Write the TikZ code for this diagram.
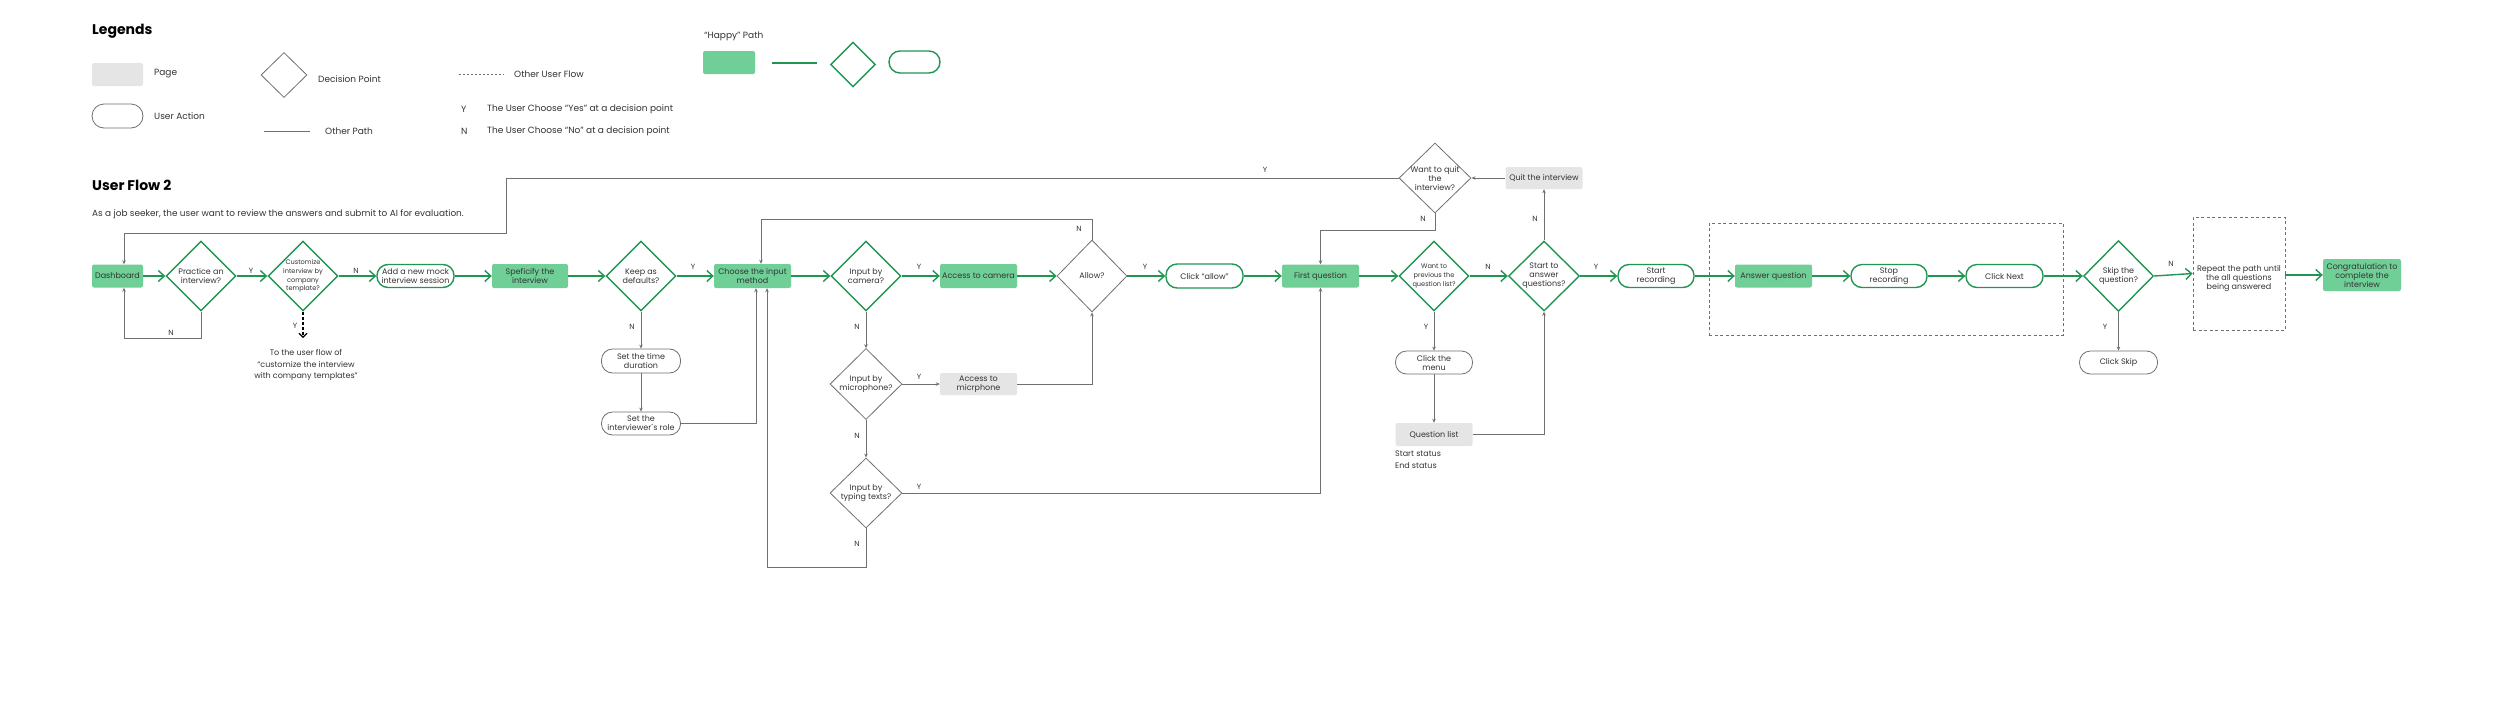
\documentclass[tikz,border=0pt]{standalone}
\usepackage{fontspec}
\setmainfont{Poppins}
\usetikzlibrary{shapes.geometric,arrows.meta}
\definecolor{gfill}{HTML}{6FCF97}
\definecolor{gline}{HTML}{219653}
\definecolor{pgray}{HTML}{E5E5E5}
\definecolor{lgray}{HTML}{707070}
\definecolor{tdark}{HTML}{333333}
\newcommand\myN{\fontsize{8}{9}\selectfont}
\newcommand\myS{\fontsize{6.6}{8.8}\selectfont}
\newcommand\myL{\fontsize{9}{11}\selectfont}
\newcommand\myYN{\fontsize{7.5}{9}\selectfont}
\newcommand\myT{\fontsize{14}{16}\selectfont\bfseries}
\newcommand\myST{\fontsize{8.9}{11}\selectfont}
\begin{document}
\begin{tikzpicture}[x=1pt,y=-1pt,
  box/.style={rectangle, rounded corners=2pt, inner sep=0pt, align=center, font=\myN, text=tdark},
  gbox/.style={box, fill=gfill},
  pbox/.style={box, fill=pgray},
  gact/.style={box, rounded corners=11pt, draw=gline, line width=1.4pt},
  pact/.style={box, rounded corners=11pt, draw=lgray, line width=0.8pt},
  dec/.style={diamond, inner sep=0pt, minimum width=70pt, minimum height=70pt},
  gdec/.style={dec, draw=gline, line width=1.4pt},
  bdec/.style={dec, draw=lgray, line width=0.8pt},
  dtext/.style={align=center, font=\myN, text=tdark, inner sep=0pt},
  stext/.style={dtext, font=\myS},
  yn/.style={font=\myYN, text=tdark, inner sep=0pt},
  leg/.style={anchor=west, font=\myL, text=tdark, inner sep=0pt},
  hp/.style={draw=gline, line width=1.4pt, -{Straight Barb[length=6pt,width=11pt]}},
  op/.style={draw=lgray, line width=0.8pt, -{Stealth[length=4pt,width=3.5pt]}},
  grp/.style={draw=lgray, line width=0.8pt, dash pattern=on 3pt off 2.5pt, inner sep=0pt}
]
\fill[white] (0,0) rectangle (2500,710);
\useasboundingbox (0,0) rectangle (2500,710);

% ---------------- Legend ----------------
\node[anchor=west, font=\myT, inner sep=0pt] (legT) at (92,31) {Legends};
\node[pbox, minimum width=51pt, minimum height=23pt] (lgPage) at (117.5,74.5) {};
\node[leg] (lgPageT) at (154,74) {Page};
\node[pact, rounded corners=12pt, minimum width=51pt, minimum height=24pt] (lgAct) at (117.5,116) {};
\node[leg] (lgActT) at (154,116) {User Action};
\node[bdec, minimum width=46pt, minimum height=45pt] (lgDec) at (284,75) {};
\node[leg] (lgDecT) at (318,79) {Decision Point};
\coordinate (lgOP1) at (264,131);
\coordinate (lgOP2) at (310,131);
\draw[lgray, line width=0.8pt] (lgOP1) -- (lgOP2);
\node[leg] (lgOPT) at (325,131) {Other Path};
\coordinate (lgOF1) at (459,74);
\coordinate (lgOF2) at (504,74);
\draw[lgray, line width=0.8pt, dash pattern=on 2pt off 2pt] (lgOF1) -- (lgOF2);
\node[leg] (lgOFT) at (514,74) {Other User Flow};
\node[leg] (lgY) at (461,109) {Y};
\node[leg] (lgYT) at (487,109) {The User Choose “Yes” at a decision point};
\node[leg] (lgN) at (461,131) {N};
\node[leg] (lgNT) at (487,131) {The User Choose “No” at a decision point};
\node[leg] (lgHappy) at (704,36) {“Happy” Path};
\node[gbox, minimum width=52pt, minimum height=23pt] (lgGBox) at (729,62.5) {};
\coordinate (lgGL1) at (772,63);
\coordinate (lgGL2) at (817,63);
\draw[gline, line width=1.4pt] (lgGL1) -- (lgGL2);
\node[gdec, minimum width=45pt, minimum height=45pt] (lgGDec) at (853,64.5) {};
\node[gact, minimum width=51pt, minimum height=22pt] (lgGAct) at (914.5,62) {};

% ---------------- Titles ----------------
\node[anchor=west, font=\myT, inner sep=0pt] (uf) at (92,185) {User Flow 2};
\node[anchor=west, font=\myST, text=tdark, inner sep=0pt] (sub) at (92,214) {As a job seeker, the user want to review the answers and submit to AI for evaluation.};

% ---------------- Group boxes ----------------
\node[grp, minimum width=354pt, minimum height=112pt] (grp1) at (1886,279) {};

% ---------------- Nodes ----------------
\node[gbox, minimum width=51pt, minimum height=23pt] (dash) at (117.5,276) {Dashboard};
\node[gdec, label={[dtext]center:{Practice an\\interview?}}] (practice) at (201,276) {};
\node[gdec, label={[stext]center:{Customize\\interview by\\company\\template?}}] (custom) at (303,276) {};
\node[gact, minimum width=77pt, minimum height=23pt] (addmock) at (415.5,276) {Add a new mock\\interview session};
\node[gbox, minimum width=76pt, minimum height=24pt] (spec) at (530,276) {Speficify the\\interview};
\node[gdec, label={[dtext]center:{Keep as\\defaults?}}] (keep) at (641,276) {};
\node[gbox, minimum width=77pt, minimum height=24pt] (choose) at (752.5,276) {Choose the input\\method};
\node[pact, minimum width=79pt, minimum height=24pt] (settime) at (641,361) {Set the time\\duration};
\node[pact, minimum width=79pt, minimum height=23pt] (setrole) at (641,423.5) {Set the\\interviewer´s role};
\node[gdec, label={[dtext]center:{Input by\\camera?}}] (camera) at (866,276) {};
\node[gbox, minimum width=77pt, minimum height=24pt] (acccam) at (978.5,276) {Access to camera};
\node[bdec, minimum height=72pt, label={[dtext]center:{Allow?}}] (allow) at (1092,276) {};
\node[gact, minimum width=77pt, minimum height=24pt] (clickallow) at (1204.5,276) {Click “allow”};
\node[bdec, minimum width=72pt, minimum height=71pt, label={[dtext]center:{Input by\\microphone?}}] (mic) at (866,384) {};
\node[pbox, minimum width=77pt, minimum height=22pt] (accmic) at (978.5,384) {Access to\\micrphone};
\node[bdec, minimum width=72pt, label={[dtext]center:{Input by\\typing texts?}}] (typing) at (866,493) {};
\node[gbox, minimum width=77pt, minimum height=23pt] (firstq) at (1320.5,276) {First question};
\node[bdec, minimum width=72pt, label={[dtext]center:{Want to quit\\the\\interview?}}] (quitdec) at (1435,178) {};
\node[pbox, minimum width=77pt, minimum height=22pt] (quitbox) at (1544,178) {Quit the interview};
\node[gdec, label={[stext]center:{Want to\\previous the\\question list?}}] (prev) at (1434,276) {};
\node[gdec, minimum width=71pt, label={[dtext]center:{Start to\\answer\\questions?}}] (start) at (1544,276) {};
\node[pact, minimum width=77pt, minimum height=23pt] (clickmenu) at (1434,362.5) {Click the\\menu};
\node[pbox, minimum width=77pt, minimum height=23pt] (qlist) at (1434,434.5) {Question list};
\node[anchor=west, font=\myN, text=tdark, inner sep=0pt] (stst) at (1395,454) {Start status};
\node[anchor=west, font=\myN, text=tdark, inner sep=0pt] (enst) at (1395,466) {End status};
\node[gact, minimum width=76pt, minimum height=23pt] (startrec) at (1656,276) {Start\\recording};
\node[gbox, minimum width=77pt, minimum height=23pt] (answer) at (1773.5,276) {Answer question};
\node[gact, minimum width=76pt, minimum height=23pt] (stoprec) at (1889,276) {Stop\\recording};
\node[gact, minimum width=77pt, minimum height=23pt] (clicknext) at (2004.5,276) {Click Next};
\node[gdec, minimum height=71pt, label={[dtext]center:{Skip the\\question?}}] (skip) at (2118.5,276) {};
\node[pact, minimum width=78pt, minimum height=23pt] (clickskip) at (2118.5,362.5) {Click Skip};
\node[grp, minimum width=92pt, minimum height=113pt, label={[dtext, yshift=-5.5pt]center:{Repeat the path until\\the all questions\\being answered}}] (repeat) at (2239,273.5) {};
\node[gbox, minimum width=78pt, minimum height=32pt] (congrats) at (2362,275) {Congratulation to\\complete the\\interview};

\node[align=center, font=\fontsize{8}{11.7}\selectfont, text=tdark, inner sep=0pt] (tocust) at (306,365) {To the user flow of\\“customize the interview\\with company templates”};

% ---------------- Happy path connectors ----------------
\draw[hp] (dash.east) -- (practice.west);
\draw[hp] (practice.east) -- (custom.west);
\draw[hp] (custom.east) -- (addmock.west);
\draw[hp] (addmock.east) -- (spec.west);
\draw[hp] (spec.east) -- (keep.west);
\draw[hp] (keep.east) -- (choose.west);
\draw[hp] (choose.east) -- (camera.west);
\draw[hp] (camera.east) -- (acccam.west);
\draw[hp] (acccam.east) -- (allow.west);
\draw[hp] (allow.east) -- (clickallow.west);
\draw[hp] (clickallow.east) -- (firstq.west);
\draw[hp] (firstq.east) -- (prev.west);
\draw[hp] (prev.east) -- (start.west);
\draw[hp] (start.east) -- (startrec.west);
\draw[hp] (startrec.east) -- (answer.west);
\draw[hp] (answer.east) -- (stoprec.west);
\draw[hp] (stoprec.east) -- (clicknext.west);
\draw[hp] (clicknext.east) -- (skip.west);
\draw[hp] (skip.east) -- (repeat.west);
\draw[hp] (repeat.east |- congrats.west) -- (congrats.west);

% ---------------- Other path connectors ----------------
\coordinate (lpA) at (506,233);
\draw[op] (quitdec.west) -| (lpA) -| ([xshift=6.5pt]dash.north);
\coordinate (lpB) at (124,338);
\draw[op] (practice.south) |- (lpB) -- ([xshift=6.5pt]dash.south);
\coordinate (custEnd) at (303,338);
\draw[black, line width=1.1pt, dash pattern=on 3pt off 2pt, -{Straight Barb[length=4pt,width=8pt]}] (custom.south) -- (custEnd);
\draw[op] (keep.south) -- (settime.north);
\draw[op] (settime.south) -- (setrole.north);
\draw[op] (setrole.east) -| ([xshift=3.5pt]choose.south);
\coordinate (lpC) at (761,219);
\draw[op] (allow.north) |- (lpC) -- ([xshift=8.5pt]choose.north);
\draw[op] (camera.south) -- (mic.north);
\draw[op] (mic.east) -- (accmic.west);
\draw[op] (accmic.east) -| (allow.south);
\draw[op] (mic.south) -- (typing.north);
\draw[op] (typing.east) -| (firstq.south);
\coordinate (lpD) at (767,567);
\draw[op] (typing.south) |- (lpD) -- ([xshift=14.5pt]choose.south);
\coordinate (lpE) at (1320.5,230);
\draw[op] (quitdec.south) |- (lpE) -- (firstq.north);
\draw[op] (quitbox.west) -- (quitdec.east);
\draw[op] (start.north) -- (quitbox.south);
\draw[op] (prev.south) -- (clickmenu.north);
\draw[op] (clickmenu.south) -- (qlist.north);
\draw[op] (qlist.east) -| (start.south);
\draw[op] (skip.south) -- (clickskip.north);

% ---------------- Y / N labels ----------------
\node[yn] (lY1) at (251,271) {Y};
\node[yn] (lN1) at (356,271) {N};
\node[yn] (lN2) at (171,333) {N};
\node[yn] (lY2) at (295,326) {Y};
\node[yn] (lY3) at (693,267) {Y};
\node[yn] (lN3) at (632,327) {N};
\node[yn] (lY4) at (919,267) {Y};
\node[yn] (lN4) at (1079,229) {N};
\node[yn] (lY5) at (1145,267) {Y};
\node[yn] (lN5) at (857,327) {N};
\node[yn] (lY6) at (919,377) {Y};
\node[yn] (lN6) at (857,436) {N};
\node[yn] (lY7) at (919,487) {Y};
\node[yn] (lN7) at (857,544) {N};
\node[yn] (lY8) at (1265,170) {Y};
\node[yn] (lN8) at (1423,219) {N};
\node[yn] (lN9) at (1488,267) {N};
\node[yn] (lN10) at (1535,219) {N};
\node[yn] (lY9) at (1426,327) {Y};
\node[yn] (lY10) at (1596,267) {Y};
\node[yn] (lY11) at (2105,327) {Y};
\node[yn] (lN11) at (2171,264) {N};
\end{tikzpicture}
\end{document}
